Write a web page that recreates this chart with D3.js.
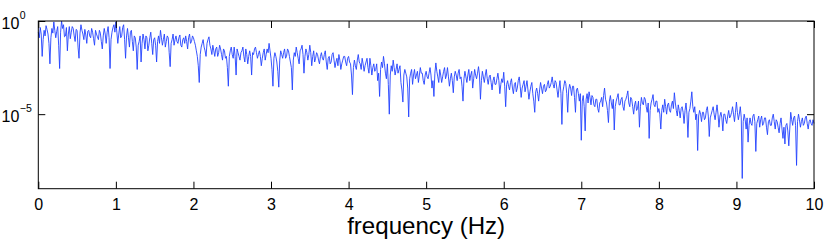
<!DOCTYPE html>
<html>
<head>
<meta charset="utf-8">
<script src="https://d3js.org/d3.v7.min.js"></script>
<style>
  body { margin: 0; background: #fff; }
  text { font-family: "Liberation Sans", Arial, sans-serif; fill: #000; }
</style>
</head>
<body>
<script>
// spectrum, log10 of power, one sample every 0.0125 Hz from 0 Hz
var freqStep = 0.0125;
var logPower = [
  // 0 - 1 Hz
  -0.6, -0.9, -0.35, -0.7, -1.9, -1.0, -0.5, -0.8, -0.25, -0.45, -0.7, -1.2, -2.3, -0.9, -0.4, -0.65, -0.05, -0.5, -0.9, -0.55,
  -0.3, -1.3, -2.55, -0.6, 0.0, -0.4, -0.2, -0.85, -0.8, -0.35, -1.6, -0.7, -0.3, -0.95, -0.6, -0.3, -0.4, -0.8, -1.1, -0.45,
  -0.5, -1.4, -2.0, -0.65, -0.2, -0.5, -0.7, -1.0, -0.45, -0.75, -1.2, -0.55, -0.5, -0.8, -0.9, -0.4, -0.6, -0.95, -1.3, -0.5,
  -0.7, -0.85, -1.0, -0.5, -0.65, -1.1, -1.5, -0.8, -0.4, -0.7, -1.2, -0.6, -0.3, -0.9, -2.55, -1.0, -0.6, -0.35, -0.2, -0.6,
  // 1 - 2 Hz
  -0.05, -0.6, -1.2, -0.7, -0.3, -0.9, -0.8, -0.35, -0.2, -1.0, -2.0, -0.8, -0.4, -0.9, -1.4, -0.6, -0.5, -1.1, -1.6, -0.8,
  -0.9, -1.4, -2.6, -1.3, -1.1, -0.8, -2.2, -1.2, -0.7, -1.0, -1.5, -0.8, -0.9, -1.6, -1.3, -0.9, -0.6, -1.2, -1.8, -1.0,
  -0.9, -1.3, -2.2, -1.1, -0.8, -1.2, -0.5, -0.9, -1.3, -1.0, -0.7, -1.4, -1.1, -0.8, -0.9, -1.7, -2.45, -1.2, -1.0, -0.7,
  -1.3, -1.0, -0.8, -1.1, -1.2, -0.9, -0.75, -1.3, -1.4, -1.0, -0.9, -1.2, -0.8, -1.1, -1.5, -0.9, -0.7, -1.2, -1.1, -0.8,
  // 2 - 3 Hz
  -0.9, -1.1, -1.3, -1.6, -1.9, -2.4, -3.3, -1.8, -1.4, -1.2, -1.0, -1.4, -1.6, -1.9, -1.2, -1.0, -0.85, -1.3, -1.5, -1.8,
  -1.3, -1.6, -1.9, -1.5, -1.4, -1.9, -1.7, -1.3, -1.5, -1.8, -2.1, -1.5, -1.6, -2.0, -1.9, -2.5, -3.5, -1.9, -1.6, -1.4,
  -1.8, -2.0, -1.4, -1.9, -2.9, -1.5, -1.7, -1.9, -2.1, -1.7, -1.6, -1.4, -1.9, -2.2, -1.5, -1.8, -2.3, -1.9, -1.6, -1.9,
  -2.9, -1.7, -1.8, -1.5, -1.4, -1.7, -2.0, -1.8, -1.6, -1.9, -2.4, -2.0, -1.7, -1.5, -2.1, -1.8, -1.5, -1.7, -1.2, -1.6,
  // 3 - 4 Hz
  -2.0, -2.6, -3.5, -2.0, -1.7, -1.9, -2.2, -2.7, -3.55, -2.1, -1.6, -1.8, -2.0, -1.7, -1.5, -2.0, -1.9, -1.5, -1.6, -1.9,
  -2.2, -2.5, -3.7, -2.1, -1.7, -1.9, -1.4, -1.7, -2.0, -2.3, -1.6, -1.5, -1.3, -1.8, -2.8, -1.9, -1.5, -1.7, -2.1, -1.8,
  -1.3, -1.7, -2.4, -1.9, -1.6, -2.2, -2.0, -1.7, -1.8, -2.1, -2.3, -1.9, -1.7, -2.0, -2.1, -1.8, -1.6, -2.2, -2.6, -2.0,
  -1.9, -2.3, -2.2, -1.8, -1.7, -2.1, -2.5, -2.2, -2.0, -2.4, -1.8, -2.1, -2.6, -2.3, -2.1, -1.9, -1.9, -2.2, -2.4, -2.0,
  // 4 - 5 Hz
  -1.9, -2.2, -2.3, -2.9, -3.95, -2.5, -2.1, -2.4, -2.6, -2.1, -1.8, -2.2, -2.3, -2.6, -2.0, -2.3, -2.7, -2.4, -2.2, -2.0,
  -2.5, -2.8, -2.0, -2.4, -2.9, -2.5, -2.3, -2.7, -2.6, -2.3, -3.2, -2.8, -4.05, -2.6, -2.2, -2.5, -1.9, -2.3, -2.8, -3.1,
  -2.3, -3.4, -5.0, -2.9, -2.4, -2.7, -2.1, -2.5, -2.9, -2.6, -2.3, -2.8, -2.6, -2.4, -3.3, -3.7, -4.35, -2.9, -2.6, -2.8,
  -3.0, -3.6, -5.15, -3.1, -2.8, -2.6, -3.4, -2.9, -2.6, -3.1, -2.9, -2.7, -3.3, -2.9, -2.5, -2.8, -2.8, -3.2, -3.4, -2.9,
  // 5 - 6 Hz
  -2.7, -3.0, -3.1, -2.8, -2.5, -2.9, -3.6, -3.2, -4.05, -2.8, -2.25, -2.7, -3.0, -3.3, -2.6, -2.9, -3.3, -3.0, -2.7, -2.5,
  -3.1, -2.9, -2.5, -3.0, -3.5, -3.1, -2.8, -3.2, -3.85, -3.0, -2.7, -2.9, -3.2, -2.8, -2.6, -3.1, -3.0, -3.5, -4.3, -3.1,
  -2.7, -3.0, -3.3, -2.9, -2.6, -3.2, -2.9, -2.7, -3.6, -3.1, -2.6, -2.9, -3.1, -2.8, -2.45, -2.9, -4.2, -3.2, -2.7, -3.0,
  -3.3, -2.9, -2.6, -3.1, -3.4, -3.0, -2.9, -3.3, -3.7, -3.2, -3.0, -3.4, -3.4, -3.1, -2.8, -3.2, -3.9, -3.4, -3.1, -3.3,
  // 6 - 7 Hz
  -2.75, -3.5, -4.6, -3.4, -3.2, -3.5, -3.7, -3.3, -3.1, -3.6, -3.9, -3.4, -3.3, -3.8, -3.6, -3.2, -3.0, -3.5, -4.1, -3.6,
  -3.4, -3.2, -3.8, -3.5, -3.2, -3.7, -4.2, -3.8, -3.5, -3.3, -3.9, -4.3, -4.9, -3.8, -3.6, -3.9, -4.3, -3.7, -3.3, -3.6,
  -3.9, -3.5, -3.4, -3.8, -3.7, -3.4, -3.2, -3.6, -3.5, -3.3, -3.0, -3.4, -3.6, -3.2, -3.3, -3.7, -4.1, -3.6, -3.2, -3.9,
  -5.55, -3.8, -3.5, -3.2, -3.35, -3.9, -4.9, -3.7, -3.4, -3.6, -4.0, -3.5, -3.5, -4.1, -4.9, -3.7, -3.6, -3.9, -4.3, -3.9,
  // 7 - 8 Hz
  -6.4, -4.3, -4.0, -4.6, -5.9, -4.2, -3.9, -4.4, -3.8, -4.1, -4.5, -4.0, -4.1, -4.5, -4.6, -4.2, -4.2, -4.7, -4.9, -4.4,
  -4.3, -4.1, -4.6, -4.0, -3.6, -4.2, -4.4, -4.8, -5.45, -4.3, -4.0, -4.4, -4.7, -4.2, -5.85, -4.6, -4.3, -4.1, -3.9, -4.5,
  -4.5, -4.2, -4.1, -4.6, -4.8, -4.3, -4.2, -4.0, -3.75, -4.4, -4.6, -4.1, -4.2, -4.6, -5.0, -4.5, -4.3, -4.8, -4.7, -4.3,
  -5.7, -4.6, -4.1, -4.4, -4.5, -4.1, -4.2, -4.6, -4.9, -4.4, -6.3, -4.8, -4.4, -4.2, -3.95, -4.5, -4.6, -4.3, -4.3, -4.9,
  // 8 - 9 Hz
  -4.7, -5.0, -5.8, -4.8, -4.5, -4.9, -4.2, -4.6, -5.0, -4.5, -4.4, -4.8, -4.9, -4.5, -4.3, -4.7, -3.85, -4.4, -4.8, -5.1,
  -4.5, -4.8, -5.2, -4.7, -4.6, -4.9, -5.5, -4.8, -4.4, -5.0, -6.25, -4.9, -4.7, -4.3, -3.8, -4.6, -4.9, -4.6, -5.3, -5.0,
  -6.95, -5.1, -4.8, -5.0, -5.4, -4.9, -4.9, -5.3, -5.2, -4.8, -4.6, -5.1, -6.2, -5.2, -5.0, -4.8, -4.6, -5.0, -5.3, -4.9,
  -4.5, -5.0, -5.7, -5.1, -4.9, -5.2, -5.9, -5.0, -5.0, -5.3, -5.5, -5.1, -4.8, -5.2, -5.1, -4.9, -4.6, -5.0, -5.4, -4.9,
  // 9 - 10 Hz
  -4.35, -4.9, -5.3, -5.0, -4.6, -5.2, -8.45, -5.4, -5.0, -5.3, -5.8, -5.2, -6.5, -5.6, -5.2, -5.5, -5.6, -5.1, -5.0, -5.4,
  -7.0, -5.5, -5.3, -5.1, -5.7, -5.3, -5.1, -5.6, -5.5, -5.2, -5.2, -5.7, -6.1, -5.4, -5.3, -5.6, -5.6, -5.2, -5.0, -5.4,
  -5.8, -5.3, -5.4, -5.7, -6.0, -5.5, -5.2, -5.8, -6.3, -5.7, -6.6, -5.6, -5.5, -5.9, -6.7, -5.8, -4.9, -5.3, -5.6, -5.2,
  -5.1, -5.6, -7.75, -5.4, -5.0, -5.3, -5.7, -5.4, -5.2, -5.6, -5.5, -5.2, -5.1, -5.5, -5.8, -5.4, -5.3, -5.5, -5.6, -5.3,
  -5.5
];

// axis ticks
var xTicks = [0, 1, 2, 3, 4, 5, 6, 7, 8, 9, 10];
var yTicks = [0, -5];          // exponents shown as 10^k
var xLabel = "frequency (Hz)";

var width = 830,
    height = 243,
    margin = {top: 21, right: 16, bottom: 54.3, left: 38.3};

var innerW = width - margin.left - margin.right,
    innerH = height - margin.top - margin.bottom,
    tickLen = 7;

var svg = d3.select("body")
  .append("svg")
  .attr("width", width)
  .attr("height", height);

var g = svg.append("g")
  .attr("transform", "translate(" + margin.left + "," + margin.top + ")");

var xScale = d3.scaleLinear()
  .domain([0, 10])
  .range([0, innerW]);

// log axis, drawn on the exponent
var yScale = d3.scaleLinear()
  .domain([-9, 0])
  .range([innerH, 0]);

// the spectrum
var line = d3.line()
  .x(function(d, i) { return xScale(i * freqStep); })
  .y(function(d) { return yScale(d); });

g.append("path")
  .datum(logPower)
  .attr("fill", "none")
  .attr("stroke", "#2342ff")
  .attr("stroke-width", 0.9)
  .attr("stroke-linejoin", "round")
  .attr("d", line);

// bottom axis with labels, ticks pointing in
var xAxis = d3.axisBottom(xScale)
  .tickValues(xTicks)
  .tickFormat(d3.format("d"))
  .tickSizeInner(-tickLen)
  .tickSizeOuter(0)
  .tickPadding(10);

g.append("g")
  .attr("class", "x axis")
  .attr("transform", "translate(0," + innerH + ")")
  .call(xAxis)
  .call(function(s) {
    s.select(".domain").remove();
    s.selectAll("text").style("font-size", "16px").attr("fill", "#000");
    s.selectAll("line").attr("stroke", "#000");
  });

// top axis, ticks only
g.append("g")
  .attr("class", "x2 axis")
  .call(d3.axisTop(xScale).tickValues(xTicks).tickSizeInner(-tickLen).tickSizeOuter(0).tickFormat(""))
  .call(function(s) {
    s.select(".domain").remove();
    s.selectAll("line").attr("stroke", "#000");
  });

// left and right ticks
g.append("g")
  .call(d3.axisLeft(yScale).tickValues(yTicks).tickSizeInner(-tickLen).tickSizeOuter(0).tickFormat(""))
  .call(function(s) {
    s.select(".domain").remove();
    s.selectAll("line").attr("stroke", "#000");
  });

g.append("g")
  .attr("transform", "translate(" + innerW + ",0)")
  .call(d3.axisRight(yScale).tickValues(yTicks).tickSizeInner(-tickLen).tickSizeOuter(0).tickFormat(""))
  .call(function(s) {
    s.select(".domain").remove();
    s.selectAll("line").attr("stroke", "#000");
  });

// y tick labels as 10 with a superscript
g.selectAll(".ylab")
  .data(yTicks)
  .enter()
  .append("text")
  .attr("class", "ylab")
  .attr("x", -19)
  .attr("y", function(d) { return yScale(d) + 7.5; })
  .attr("text-anchor", "end")
  .style("font-size", "16px")
  .text("10");

g.selectAll(".ysup")
  .data(yTicks)
  .enter()
  .append("text")
  .attr("class", "ysup")
  .attr("x", -18.5)
  .attr("y", function(d) { return yScale(d) - 2.5; })
  .style("font-size", "10.5px")
  .text(function(d) { return d === 0 ? "0" : "\u2212" + Math.abs(d); });

// plot box
g.append("rect")
  .attr("width", innerW)
  .attr("height", innerH)
  .attr("fill", "none")
  .attr("stroke", "#000")
  .attr("stroke-width", 1);

// x axis title
svg.append("text")
  .attr("x", margin.left + innerW / 2)
  .attr("y", 234)
  .attr("text-anchor", "middle")
  .attr("textLength", 158)
  .attr("lengthAdjust", "spacingAndGlyphs")
  .style("font-size", "24px")
  .text(xLabel);
</script>
</body>
</html>
